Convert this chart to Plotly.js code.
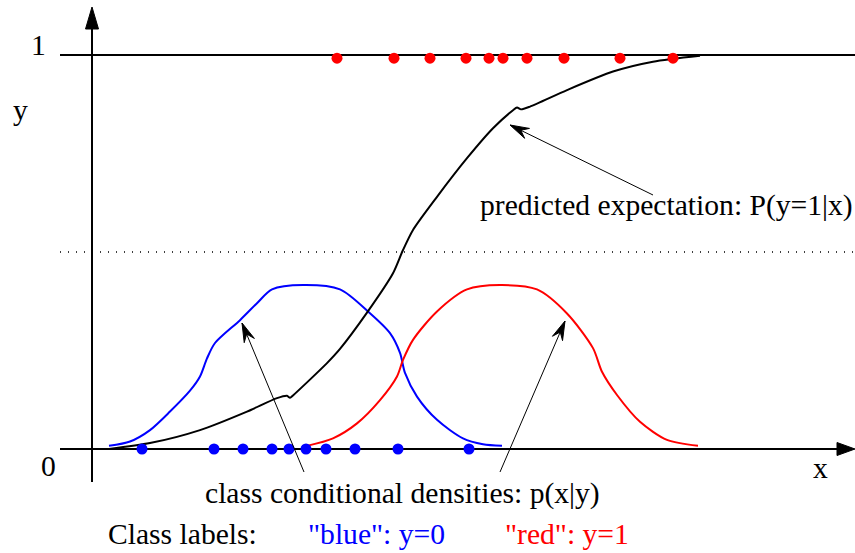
<!DOCTYPE html>
<html><head><meta charset="utf-8">
<script src="https://cdn.plot.ly/plotly-3.0.1.min.js"></script>
<style>html,body{margin:0;padding:0;background:#fff}#chart{width:855px;height:553px}</style>
</head><body><div id="chart"></div>
<script>
// ---- data (x in horizontal units of the sketch, y in probability / density units) ----
const blueDensityX = [109,130,150,170,190,200,207,215,240,257,272,303,340,368,390,400,405,417,437,463,483,502];
const blueDensityY = [0.008,0.019,0.048,0.095,0.148,0.184,0.230,0.269,0.327,0.370,0.405,0.416,0.405,0.349,0.294,0.244,0.193,0.133,0.074,0.027,0.012,0.008];

const redDensityX = [307,333,357,380,397,403,413,437,467,500,537,567,593,602,617,640,667,698];
const redDensityY = [0.008,0.027,0.065,0.124,0.184,0.226,0.277,0.349,0.405,0.416,0.405,0.344,0.256,0.196,0.137,0.069,0.023,0.008];

const expectationX = [109,150,200,247,277,287,290,293,327,340,367,393,403,413,437,467,493,513,517,521,530,567,613,653,700];
const expectationY = [0.000,0.015,0.048,0.095,0.129,0.135,0.130,0.136,0.218,0.254,0.346,0.446,0.505,0.556,0.640,0.738,0.814,0.860,0.867,0.862,0.869,0.911,0.958,0.983,0.998];

const bluePointsX = [142,214,243,272,289,306,326,355,398,469];
const bluePointsY = [0,0,0,0,0,0,0,0,0,0];
const redPointsX = [337,394,430,466,489,503,527,564,620,673];
const redPointsY = [0.992,0.992,0.992,0.992,0.992,0.992,0.992,0.992,0.992,0.992];

const yTickLabels = ['0','1'];
const axisLabels = ['x','y'];
const texts = {
  expectation: 'predicted expectation: P(y=1|x)',
  densities: 'class conditional densities: p(x|y)',
  classLabels: 'Class labels:',
  blue: '"blue": y=0',
  red: '"red": y=1'
};

// ---- geometry helpers ----
const W = 855, H = 553;
const Y0PX = 449, UNIT = 394;             // pixel row of y=0, pixels per unit
const yTop = Y0PX / UNIT, yBot = (Y0PX - H) / UNIT;
const dy = p => (Y0PX - p) / UNIT;         // pixel row -> data y
const pyOf = v => Y0PX - v * UNIT;         // data y -> pixel row

function headPath(tx, ty, fx, fy, L, Wd, notch) {
  const tpx = tx, tpy = pyOf(ty), fpx = fx, fpy = pyOf(fy);
  let ux = tpx - fpx, uy = tpy - fpy;
  const n = Math.hypot(ux, uy); ux /= n; uy /= n;
  const px = -uy, py = ux;
  const bx = tpx - ux * L, by = tpy - uy * L;
  const nx = tpx - ux * notch, ny = tpy - uy * notch;
  const pts = [[tpx, tpy], [bx + px * Wd / 2, by + py * Wd / 2], [nx, ny], [bx - px * Wd / 2, by - py * Wd / 2]];
  return 'M' + pts.map(p => p[0].toFixed(2) + ',' + dy(p[1]).toFixed(5)).join(' L') + ' Z';
}
function triPath(tx, ty, fx, fy, L, Wd) { return headPath(tx, ty, fx, fy, L, Wd, L); }

const shapes = [];
shapes.push({type:'line', xref:'x', yref:'y', x0:60, x1:855, y0:0.5, y1:0.5, line:{color:'#000', width:1.4, dash:'1px,7px'}, layer:'below'});
shapes.push({type:'line', xref:'x', yref:'y', x0:60, x1:855, y0:1, y1:1, line:{color:'#000', width:2}, layer:'below'});
shapes.push({type:'line', xref:'x', yref:'y', x0:60, x1:840, y0:0, y1:0, line:{color:'#000', width:2}, layer:'below'});
shapes.push({type:'path', xref:'x', yref:'y', path: triPath(855, 0, 800, 0, 18, 13), fillcolor:'#000', line:{color:'#000', width:1}, layer:'below'});
shapes.push({type:'line', xref:'x', yref:'y', x0:92, x1:92, y0:dy(482), y1:dy(26), line:{color:'#000', width:2}, layer:'below'});
shapes.push({type:'path', xref:'x', yref:'y', path: triPath(92, dy(7), 92, dy(100), 22, 13), fillcolor:'#000', line:{color:'#000', width:1}, layer:'below'});

const arrowDefs = [[510,125,653,195],[242,323,304,472],[565,321,500,472]];
arrowDefs.forEach(a => {
  const tx=a[0], ty=dy(a[1]), fx=a[2], fy=dy(a[3]);
  shapes.push({type:'line', xref:'x', yref:'y', x0:fx, y0:fy, x1:tx, y1:ty, line:{color:'#000', width:1}});
  shapes.push({type:'path', xref:'x', yref:'y', path: headPath(tx, ty, fx, fy, 19, 11, 12), fillcolor:'#000', line:{color:'#000', width:1}});
});

const F = 'Liberation Serif, Times New Roman, serif';
const FS = 29.6;
function txt(s, x, basePx, color) {
  return {text:s, x:x, y:dy(basePx - 10), xref:'x', yref:'y', xanchor:'left', yanchor:'middle', showarrow:false, font:{family:F, size:FS, color:color||'#000'}};
}
const annotations = [
  txt(texts.expectation, 478, 215),
  txt(texts.densities, 203, 503),
  txt(texts.classLabels, 106, 544),
  txt(texts.blue, 306, 544, '#0000ff'),
  txt(texts.red, 503, 544, '#ff0000'),
  txt(yTickLabels[1], 29, 55),
  txt(yTickLabels[0], 39, 476),
  txt(axisLabels[1], 11, 120),
  txt(axisLabels[0], 811, 478)
];

const traces = [
  {x: blueDensityX, y: blueDensityY, mode:'lines', line:{color:'#0000ff', width:2, shape:'spline', smoothing:0.8}},
  {x: redDensityX, y: redDensityY, mode:'lines', line:{color:'#ff0000', width:2, shape:'spline', smoothing:0.8}},
  {x: expectationX, y: expectationY, mode:'lines', line:{color:'#000', width:2, shape:'spline', smoothing:0.7}},
  {x: bluePointsX, y: bluePointsY, mode:'markers', marker:{color:'#0000ff', size:11}},
  {x: redPointsX, y: redPointsY, mode:'markers', marker:{color:'#ff0000', size:11}}
];

const layout = {
  width: W, height: H,
  margin: {l:0, r:0, t:0, b:0, pad:0},
  paper_bgcolor:'#fff', plot_bgcolor:'#fff',
  showlegend:false, hovermode:false,
  xaxis:{range:[0, W], visible:false, fixedrange:true},
  yaxis:{range:[yBot, yTop], visible:false, fixedrange:true},
  shapes: shapes,
  annotations: annotations
};
Plotly.newPlot('chart', traces, layout, {staticPlot:true, displayModeBar:false});
</script>
</body></html>
